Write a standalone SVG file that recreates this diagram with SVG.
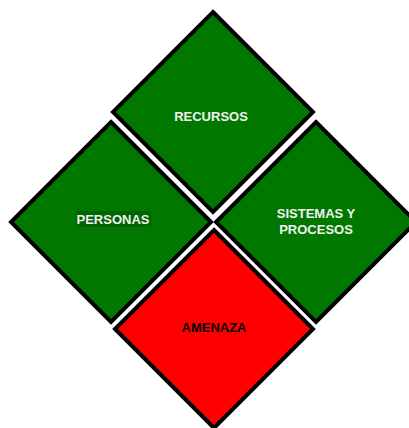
<svg xmlns="http://www.w3.org/2000/svg" width="409" height="428" viewBox="0 0 409 428">
<style>
.g{fill:#007800;stroke:#000;stroke-width:4;stroke-linejoin:miter}
.r{fill:#ff0000;stroke:#000;stroke-width:4;stroke-linejoin:miter}
.t{font-family:"Liberation Sans",Arial,sans-serif;font-weight:bold;font-size:13px;fill:#f2f2f2;text-anchor:middle}
.k{fill:#000}
</style>
<rect width="409" height="428" fill="#fff"/>
<g id="recursos">
<polygon class="g" points="213,12 313,112 213,212 113,112"/>
<text class="t" x="211" y="121">RECURSOS</text>
</g>
<g id="personas">
<polygon class="g" points="111,122 211,222 111,322 11,222"/>
<rect x="76" y="211" width="75" height="16" fill="#006400"/>
<text class="t" x="113" y="224">PERSONAS</text>
</g>
<g id="sistemas">
<polygon class="g" points="316,122 416,222 316,322 216,222"/>
<text class="t" x="316" y="218">SISTEMAS Y</text>
<text class="t" x="316" y="234">PROCESOS</text>
</g>
<g id="amenaza">
<polygon class="r" points="214,230 313,329 214,428 115,329"/>
<text class="t k" x="214" y="332">AMENAZA</text>
</g>
<g id="connectors"></g>
</svg>
